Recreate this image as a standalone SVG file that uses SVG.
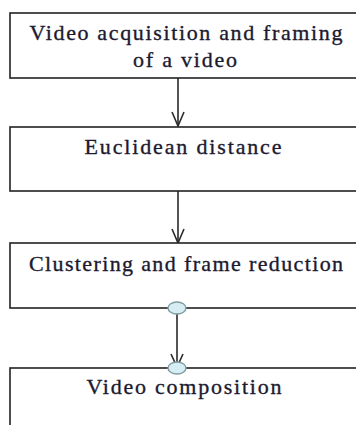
<svg xmlns="http://www.w3.org/2000/svg" width="356" height="425" viewBox="0 0 356 425">
  <style>
    .box { fill: #ffffff; stroke: #222222; stroke-width: 1.6; }
    .conn { stroke: #2a2a2a; stroke-width: 1.6; fill: none; }
    .handle { fill: #d6eef3; stroke: #7f9aa0; stroke-width: 1.4; }
    .lbl { stroke: #1c1a30; stroke-width: 0.35; }
  </style>
  <rect width="356" height="425" fill="#ffffff"/>

  <g id="connectors">
    <line class="conn" x1="178" y1="78" x2="178" y2="126"/>
    <path class="conn" d="M172,112 L178,126 L184,112"/>
    <line class="conn" x1="178" y1="191" x2="178" y2="243"/>
    <path class="conn" d="M172,229 L178,243 L184,229"/>
    <line class="conn" x1="177" y1="308" x2="177" y2="368"/>
    <path class="conn" d="M171,354 L177,367 L183,354"/>
  </g>

  <!-- labels share one serif look, set on each group -->
  <g id="node-acquisition" font-family="Liberation Serif, Times New Roman, serif" font-size="22" fill="#1c1a30">
    <rect class="box" x="10" y="13" width="360" height="65"/>
    <text class="lbl" x="186" y="40" text-anchor="middle" textLength="313" lengthAdjust="spacing">Video acquisition and framing</text>
    <text class="lbl" x="185" y="67" text-anchor="middle" textLength="104" lengthAdjust="spacing">of a video</text>
  </g>

  <g id="node-euclidean" font-family="Liberation Serif, Times New Roman, serif" font-size="22" fill="#1c1a30">
    <rect class="box" x="10" y="127" width="360" height="64"/>
    <text class="lbl" x="183" y="154" text-anchor="middle" textLength="197" lengthAdjust="spacing">Euclidean distance</text>
  </g>

  <g id="node-clustering" font-family="Liberation Serif, Times New Roman, serif" font-size="22" fill="#1c1a30">
    <rect class="box" x="10" y="243" width="360" height="65"/>
    <text class="lbl" x="186" y="271" text-anchor="middle" textLength="314" lengthAdjust="spacing">Clustering and frame reduction</text>
    <ellipse class="handle" cx="177" cy="308" rx="9" ry="6"/>
  </g>

  <g id="node-composition" font-family="Liberation Serif, Times New Roman, serif" font-size="22" fill="#1c1a30">
    <rect class="box" x="10" y="368" width="360" height="80"/>
    <text class="lbl" x="184" y="394" text-anchor="middle" textLength="195" lengthAdjust="spacing">Video composition</text>
    <ellipse class="handle" cx="177" cy="368" rx="9" ry="6"/>
  </g>
</svg>
